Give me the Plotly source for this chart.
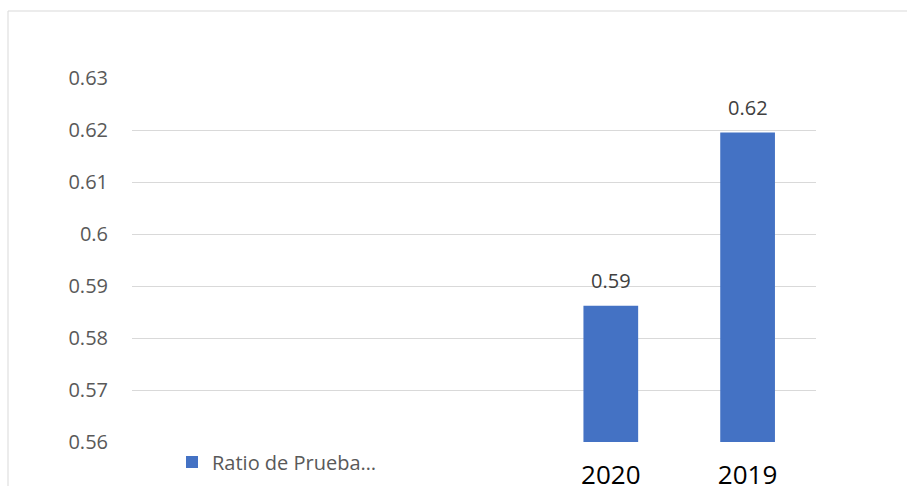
import plotly.graph_objects as go

categories = ["c1", "c2", "c3", "2020", "2019"]
tick_labels = ["", "", "", "2020", "2019"]
values = [None, None, None, 0.5862, 0.6195]
series_name = "Ratio de Prueba…"
y_ticks = [0.56, 0.57, 0.58, 0.59, 0.6, 0.61, 0.62, 0.63]
y_tick_text = ["0.56", "0.57", "0.58", "0.59", "0.6", "0.61", "0.62", "0.63"]

fig = go.Figure()
fig.add_trace(go.Bar(
    x=categories, y=values, name=series_name,
    marker=dict(color="#4472C4", line=dict(width=0)),
    width=0.4,
    showlegend=True,
))

annotations = []
for i, v in enumerate(values):
    if v is None:
        continue
    annotations.append(dict(
        x=i, y=v, xref="x", yref="y", text=f"{v:.2f}", showarrow=False,
        yanchor="bottom", yshift=10,
        font=dict(family="Open Sans", size=20, color="#404040"),
    ))

fig.update_layout(
    width=907, height=486,
    margin=dict(l=132, r=91, t=78, b=44, autoexpand=False),
    paper_bgcolor="white", plot_bgcolor="white",
    font=dict(family="Open Sans", color="#595959"),
    xaxis=dict(
        type="category", categoryorder="array", categoryarray=categories,
        range=[-0.5, len(categories) - 0.5],
        tickvals=categories, ticktext=tick_labels, tickangle=0,
        showgrid=False, showline=False, zeroline=False,
        ticks="outside", ticklen=10, tickcolor="rgba(0,0,0,0)",
        tickfont=dict(family="Open Sans", size=26, color="#000000"),
        automargin=False,
    ),
    yaxis=dict(
        range=[0.56, 0.63], tickvals=y_ticks, ticktext=y_tick_text,
        showgrid=True, gridcolor="#d9d9d9", gridwidth=1.4,
        zeroline=False, showline=False,
        ticks="outside", ticklen=19, tickcolor="rgba(0,0,0,0)",
        tickfont=dict(family="Open Sans", size=20, color="#595959"),
        automargin=False,
    ),
    annotations=annotations,
    showlegend=True,
    legend=dict(
        x=(172 - 132) / 684, y=-0.055, xanchor="left", yanchor="middle",
        orientation="h", bgcolor="rgba(0,0,0,0)",
        font=dict(family="Open Sans", size=20, color="#595959"),
    ),
    shapes=[dict(
        type="rect", xref="paper", yref="paper",
        x0=(8 - 132) / 684, x1=1.3, y0=-0.3, y1=(442 - 11) / 364,
        line=dict(color="#d9d9d9", width=1), fillcolor="rgba(0,0,0,0)", layer="below",
    )],
)

fig.write_html("out.html")
